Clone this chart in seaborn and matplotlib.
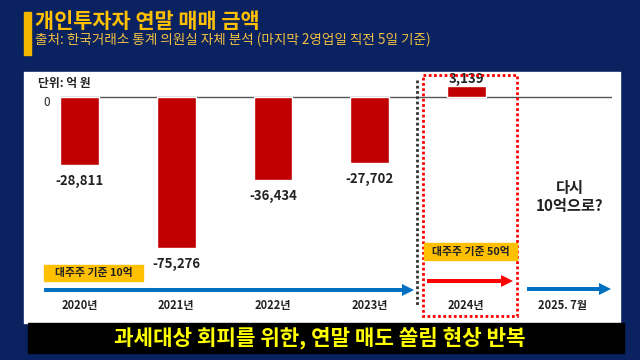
import numpy as np
import pandas as pd
import matplotlib
matplotlib.use("Agg")
import matplotlib.pyplot as plt
from matplotlib.patches import Rectangle, FancyArrow
import seaborn as sns

# ---- data ----
years = ["2020년", "2021년", "2022년", "2023년", "2024년"]
values = [-28811, -75276, -36434, -27702, 3139]
extra_tick = "2025. 7월"
title = "개인투자자 연말 매매 금액"
subtitle = "출처: 한국거래소 통계 의원실 자체 분석 (마지막 2영업일 직전 5일 기준)"
banner = "과세대상 회피를 위한, 연말 매도 쏠림 현상 반복"
unit_label = "단위: 억 원"
box1 = "대주주 기준 10억"
box2 = "대주주 기준 50억"
question = "다시\n10억으로?"

sns.set_theme(style="white")
plt.rcParams['font.family'] = ['Noto Sans CJK KR', 'DejaVu Sans']
plt.rcParams['axes.unicode_minus'] = False

W, H = 640, 360
NAVY = "#0b2261"
fig = plt.figure(figsize=(W / 100, H / 100), dpi=100, facecolor=NAVY)

def frac(x0, y0, x1, y1):
    return [x0 / W, 1 - y1 / H, (x1 - x0) / W, (y1 - y0) / H]

# background overlay (pixel coordinates)
bg = fig.add_axes([0, 0, 1, 1], zorder=0)
bg.set_xlim(0, W); bg.set_ylim(H, 0); bg.axis("off")
bg.add_patch(Rectangle((0, 0), W, H, color=NAVY, zorder=0))
bg.add_patch(Rectangle((24, 72), 596, 251, color="white", zorder=1))
bg.add_patch(Rectangle((24, 12), 7, 43, color="#f5b800", zorder=1))
bg.text(35, 21, title, color="#ffc000", fontsize=15, fontweight="bold", va="center", ha="left")
bg.text(35, 40, subtitle, color="#f0c040", fontsize=9.8, va="center", ha="left")
bg.add_patch(Rectangle((28, 323), 596, 30, color="black", zorder=1))
bg.text(320, 338, banner, color="#ffff00", fontsize=15.3, fontweight="bold", va="center", ha="center", zorder=2)

# main chart axes
ZERO_PX, TOP_PX, BOT_PX = 97, 72, 292
ax = fig.add_axes(frac(60, TOP_PX, 612, BOT_PX), zorder=2)
ax.patch.set_alpha(0)

df = pd.DataFrame({"year": years, "value": values})
order = years + [extra_tick]
sns.barplot(data=df, x="year", y="value", order=order, color="#c00000",
            width=0.4, saturation=1, ax=ax)

p = 0.83
fwd = lambda y: np.sign(y) * np.abs(y) ** p
inv = lambda y: np.sign(y) * np.abs(y) ** (1 / p)
ax.set_yscale("function", functions=(fwd, inv))
k = 68 / (28811 ** p)  # px per transformed unit
ax.set_ylim(-inv((BOT_PX - ZERO_PX) / k), inv((ZERO_PX - TOP_PX) / k))
ax.set_xlim(-0.2017, 5.507)
ax.axhline(0, color="#555555", lw=1.0, zorder=0)
for s in ax.spines.values():
    s.set_visible(False)
ax.set_xlabel(""); ax.set_ylabel("")
ax.set_yticks([])
ax.set_xticks(range(len(order)))
ax.set_xticklabels(order, fontsize=8, fontweight="bold", color="#222222")
ax.tick_params(axis="x", length=0, pad=5)

for i, v in enumerate(values):
    off = -16 if v < 0 else 7
    ax.annotate(f"{v:,}", (i, v), xytext=(0, off), textcoords="offset pixels",
                ha="center", va="center", fontsize=9.5, fontweight="bold", color="#222222")

# foreground overlay
fg = fig.add_axes([0, 0, 1, 1], zorder=3)
fg.set_xlim(0, W); fg.set_ylim(H, 0); fg.axis("off")
fg.patch.set_alpha(0)
fg.text(38, 83, unit_label, fontsize=8.5, fontweight="bold", color="#222222", va="center", ha="left")
fg.text(47, 103, "0", fontsize=8.5, color="#222222", va="center", ha="center")

fg.add_patch(Rectangle((423, 75), 94, 241, fill=False, edgecolor="#ff0000", lw=2,
                       linestyle=(0, (1, 0.9))))
fg.plot([417, 417], [80, 305], color="#333333", lw=2, linestyle=(0, (1, 0.9)))

fg.add_patch(FancyArrow(44, 290, 370, 0, width=4, head_width=12, head_length=12,
                        length_includes_head=True, color="#0070c0", lw=0))
fg.add_patch(FancyArrow(527, 289, 84, 0, width=4, head_width=12, head_length=12,
                        length_includes_head=True, color="#0070c0", lw=0))
fg.add_patch(FancyArrow(427, 281, 86, 0, width=4, head_width=12, head_length=12,
                        length_includes_head=True, color="#ff0000", lw=0))

fg.add_patch(Rectangle((44, 265), 99, 16, color="#ffc000"))
fg.text(93.5, 273, box1, fontsize=7.8, fontweight="bold", color="#222222", ha="center", va="center")
fg.add_patch(Rectangle((424, 243), 93, 17, color="#ffc000"))
fg.text(470.5, 251.5, box2, fontsize=7.8, fontweight="bold", color="#222222", ha="center", va="center")

fg.text(570, 197, question, fontsize=11, fontweight="bold", color="#222222",
        ha="center", va="center", linespacing=1.2)

fig.savefig("out.png", dpi=100, facecolor=NAVY)
